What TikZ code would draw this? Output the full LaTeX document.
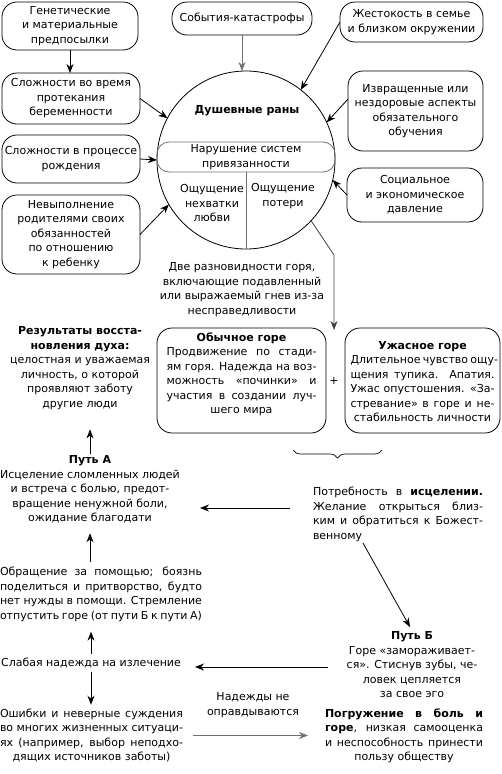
\documentclass[tikz,border=0pt]{standalone}
\usepackage{fontspec}
\setmainfont{DejaVu Sans}
\usetikzlibrary{arrows.meta,decorations.pathreplacing,calc}
\definecolor{lgray}{HTML}{707070}
\newcommand{\jl}[2]{\makebox[#1][s]{#2}}
\begin{document}
\begin{tikzpicture}[x=1pt,y=-1pt,
  every node/.style={inner sep=0pt, outer sep=0pt},
  font=\fontsize{11}{14.5}\selectfont,
  rbox/.style={draw, rounded corners=15pt, line width=0.8pt, align=center},
  arr/.style={-{Stealth[length=9pt,width=7pt]}, line width=0.8pt},
  garr/.style={arr, draw=lgray},
  txt/.style={align=center}]
\useasboundingbox (0,0) rectangle (502,774);

% left column boxes
\node[rbox, minimum width=136pt, minimum height=48pt] (g1) at (70,26) {Генетические\\и материальные\\предпосылки};
\node[rbox, minimum width=138pt, minimum height=51pt] (g2) at (71,98.5) {Сложности во время\\протекания\\беременности};
\node[rbox, minimum width=138pt, minimum height=48pt] (g3) at (71,159) {Сложности в процессе\\рождения};
\node[rbox, minimum width=138pt, minimum height=79pt] (g4) at (71,234.5) {Невыполнение\\родителями своих\\обязанностей\\по отношению\\к ребенку};
% top and right boxes
\node[rbox, minimum width=140pt, minimum height=33pt] (top) at (242,18.5) {События-катастрофы};
\node[rbox, minimum width=143pt, minimum height=40pt] (r1) at (411.5,22) {Жестокость в семье\\и близком окружении};
\node[rbox, minimum width=135pt, minimum height=80pt] (r2) at (415.5,111) {Извращенные или\\нездоровые аспекты\\обязательного\\обучения};
\node[rbox, minimum width=136pt, minimum height=54pt] (r3) at (415,195) {Социальное\\и экономическое\\давление};

% circle
\node[circle, draw, line width=0.8pt, minimum size=178pt] (c) at (246,160) {};
\node[font=\fontsize{11}{14.5}\selectfont\bfseries] (wounds) at (247,111) {Душевные раны};
\node[draw=lgray, line width=0.8pt, rounded corners=12pt, minimum width=178pt, minimum height=30pt, align=center] (att) at (246,157) {Нарушение систем\\привязанности};
\draw[draw=lgray, line width=0.8pt] (att.south) -- (c.south);
\node[txt] (lack) at (212,203) {Ощущение\\нехватки\\любви};
\node[txt] (loss) at (283,196) {Ощущение\\потери};

% arrows into circle
\draw[arr] (g1.south) -- (g1.south |- g2.north);
\draw[arr] (g2.east) -- (c.152);
\draw[arr] (g3.east) -- (c.180);
\draw[arr] (g4.east) -- (c.210);
\draw[garr] (top.south) -- (top.south |- c.north);
\draw[arr] (r1.west) -- (c.52);
\draw[arr] (r2.170) -- (c.25);
\draw[arr] (r3.west) -- (c.-13);

% two kinds of grief
\node[txt] (two) at (242,289.5) {Две разновидности горя,\\включающие подавленный\\или выражаемый гнев из-за\\несправедливости};
\coordinate (bend) at (334,255);
\coordinate (plustop) at (334,330);
\draw[arr, draw=black!75] (c.-43) -- (bend) -- (plustop);

\node[rbox, minimum width=169pt, minimum height=105pt] (ordbox) at (241.5,380.5) {};
\node[txt] (ord) at (241.5,374.5) {\textbf{Обычное горе}\\
\jl{150pt}{Продвижение по стади-}\\
\jl{150pt}{ям горя. Надежда на воз-}\\
\jl{150pt}{можность «починки» и}\\
\jl{150pt}{участия в создании луч-}\\
шего мира};
\node (plus) at (334,381) {+};
\node[rbox, minimum width=155pt, minimum height=105pt] (terbox) at (422.5,380.5) {};
\node[txt] (ter) at (422.5,381.5) {\textbf{Ужасное горе}\\
\jl{144pt}{Длительное чувство ощу-}\\
\jl{144pt}{щения тупика. Апатия.}\\
\jl{144pt}{Ужас опустошения. «За-}\\
\jl{144pt}{стревание» в горе и не-}\\
стабильность личности};

\coordinate (braceL) at (293,450);
\coordinate (braceR) at (382,450);
\draw[decorate, decoration={brace, mirror, amplitude=8pt}, line width=0.7pt] (braceL) -- (braceR);

% left column texts
\node[txt] (res) at (80,368) {\textbf{Результаты восста-}\\\textbf{новления духа:}\\целостная и уважаемая\\личность, о которой\\проявляют заботу\\другие люди};
\node[txt] (patha) at (90,489.5) {\textbf{Путь А}\\Исцеление сломленных людей\\и встреча с болью, предот-\\вращение ненужной боли,\\ожидание благодати};
\node[txt] (ask) at (101,594.5) {\jl{202pt}{Обращение за помощью; боязнь}\\
\jl{202pt}{поделиться и притворство, будто}\\
\jl{202pt}{нет нужды в помощи. Стремление}\\
\jl{202pt}{отпустить горе (от пути Б к пути А)}};
\node[txt] (weak) at (91,663) {Слабая надежда на излечение};
\node[txt] (err) at (91.5,735.5) {\jl{183pt}{Ошибки и неверные суждения}\\
\jl{183pt}{во многих жизненных ситуаци-}\\
\jl{183pt}{ях (например, выбор неподхо-}\\
дящих источников заботы)};

% right lower texts
\node[txt] (need) at (398,514.5) {\jl{170pt}{Потребность в \textbf{исцелении.}}\\
\jl{170pt}{Желание открыться близ-}\\
\jl{170pt}{ким и обратиться к Божест-}\\
\makebox[170pt][l]{венному}};
\node[txt] (pathb) at (412,665) {\textbf{Путь Б}\\Горе «замораживает-\\ся». Стиснув зубы, че-\\ловек цепляется\\за свое эго};
\node[txt] (hopes) at (253,705) {Надежды не\\оправдываются};
\node[txt] (pogr) at (404,736) {\jl{158pt}{\textbf{Погружение в боль и}}\\
\jl{158pt}{\textbf{горе}, низкая самооценка}\\
\jl{158pt}{и неспособность принести}\\
пользу обществу};

% lower arrows
\draw[arr, shorten <=2pt, shorten >=20pt] (patha.north) -- (patha.north |- res.south);
\draw[arr, shorten <=5pt, shorten >=10pt] (ask.north -| patha.south) -- (patha.south);
\draw[arr, shorten <=4pt, shorten >=10pt] (weak.north) -- (weak.north |- ask.south);
\draw[arr, shorten <=4pt, shorten >=4pt] (weak.south) -- (weak.south |- err.north);
\coordinate (toAs) at (290,508);
\coordinate (toAe) at (200,508);
\draw[arr] (toAs) -- (toAe);
\coordinate (toBs) at (363,543);
\coordinate (toBe) at (410,627);
\draw[arr] (toBs) -- (toBe);
\coordinate (toWs) at (328,667);
\coordinate (toWe) at (195,667);
\draw[arr] (toWs) -- (toWe);
\draw[garr, shorten <=10pt, shorten >=17pt] (err.east) -- (err.east -| pogr.west);
\end{tikzpicture}
\end{document}
